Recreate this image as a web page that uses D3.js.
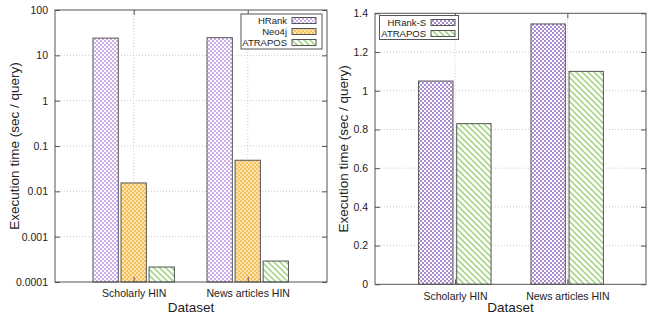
<!DOCTYPE html>
<html><head><meta charset="utf-8">
<script src="https://cdn.jsdelivr.net/npm/d3@7"></script>
<style>body{margin:0;background:#fff}svg{display:block}text{font-family:"Liberation Sans",Arial,sans-serif;fill:#222}</style>
</head><body><svg id="c" width="649" height="318"></svg>
<script>
const categories = ["Scholarly HIN", "News articles HIN"];
const leftSeries = ["HRank", "Neo4j", "ATRAPOS"];
const leftValues = [[24, 24.5], [0.0153, 0.0485], [0.000214, 0.00029]];
const leftTicks = [0.0001, 0.001, 0.01, 0.1, 1, 10, 100];
const leftTickLabels = ["0.0001", "0.001", "0.01", "0.1", "1", "10", "100"];
const rightSeries = ["HRank-S", "ATRAPOS"];
const rightValues = [[1.05, 1.345], [0.83, 1.10]];
const rightTicks = [0, 0.2, 0.4, 0.6, 0.8, 1, 1.2, 1.4];
const rightTickLabels = ["0", "0.2", "0.4", "0.6", "0.8", "1", "1.2", "1.4"];

const svg = d3.select("#c");
const defs = svg.append("defs");
function checker(id, bg, fg) {
  const p = defs.append("pattern").attr("id", id).attr("patternUnits", "userSpaceOnUse").attr("width", 4).attr("height", 4);
  p.append("rect").attr("width", 4).attr("height", 4).attr("fill", bg);
  p.append("rect").attr("width", 2).attr("height", 2).attr("fill", fg);
  p.append("rect").attr("x", 2).attr("y", 2).attr("width", 2).attr("height", 2).attr("fill", fg);
}
checker("pH", "#ffffff", "#cfacec");
checker("pHS", "#ffffff", "#a98bd2");
checker("pN", "#fde3ad", "#f6c15f");
{
  const p = defs.append("pattern").attr("id", "pA").attr("patternUnits", "userSpaceOnUse").attr("width", 6).attr("height", 6);
  p.append("rect").attr("width", 6).attr("height", 6).attr("fill", "#fff");
  p.append("path").attr("d", "M0,0L6,6M-3,3L3,9M3,-3L9,3").attr("stroke", "#a6d68a").attr("stroke-width", 1.6);
}
const fills = {"HRank": "url(#pH)", "HRank-S": "url(#pHS)", "Neo4j": "url(#pN)", "ATRAPOS": "url(#pA)"};

function chart(o) {
  const g = svg.append("g");
  const x = d3.scaleLinear().domain(o.xdom).range([o.x0, o.x1]);
  const y = o.y;
  g.selectAll(".gy").data(o.ticks.slice(1, -1)).enter().append("line")
    .attr("x1", o.x0).attr("x2", o.x1).attr("y1", d => y(d)).attr("y2", d => y(d))
    .attr("stroke", "#c8c8c8").attr("stroke-dasharray", "1,2");
  g.selectAll(".gx").data(categories).enter().append("line")
    .attr("x1", (d, i) => x(i)).attr("x2", (d, i) => x(i)).attr("y1", o.y0).attr("y2", o.y1)
    .attr("stroke", "#c8c8c8").attr("stroke-dasharray", "1,2");
  o.series.forEach((s, si) => {
    const off = o.offsets[si];
    g.selectAll(".b" + si).data(o.values[si]).enter().append("rect")
      .attr("x", (d, i) => x(i + off - o.bw / 2)).attr("width", x(o.bw) - x(0))
      .attr("y", d => y(d)).attr("height", d => o.y1 - y(d))
      .attr("fill", fills[s]).attr("stroke", "#555").attr("stroke-width", 1);
  });
  const ya = d3.axisLeft(y).tickValues(o.ticks).tickFormat((d, i) => o.tickLabels[i]).tickSize(-5).tickPadding(7);
  const yg = g.append("g").attr("transform", `translate(${o.x0},0)`).call(ya);
  const yr = g.append("g").attr("transform", `translate(${o.x1},0)`).call(d3.axisRight(y).tickValues(o.ticks).tickFormat("").tickSize(-5));
  const xa = d3.axisBottom(x).tickValues([0, 1]).tickFormat((d, i) => categories[i]).tickSize(-5).tickPadding(8);
  const xg = g.append("g").attr("transform", `translate(0,${o.y1})`).call(xa);
  const xt = g.append("g").attr("transform", `translate(0,${o.y0})`).call(d3.axisTop(x).tickValues([0, 1]).tickFormat("").tickSize(-5));
  [yg, yr, xg, xt].forEach(a => { a.select(".domain").remove(); a.selectAll("line").attr("stroke", "#555"); a.selectAll("text").style("font-size", "10.5px").attr("fill", "#222"); });
  g.append("rect").attr("x", o.x0).attr("y", o.y0).attr("width", o.x1 - o.x0).attr("height", o.y1 - o.y0)
    .attr("fill", "none").attr("stroke", "#555").attr("stroke-width", 1);
  g.append("text").attr("x", (o.x0 + o.x1) / 2).attr("y", 312).attr("text-anchor", "middle").style("font-size", "13.5px").text("Dataset");
  g.append("text").attr("transform", `translate(${o.ylabx},${(o.y0 + o.y1) / 2}) rotate(-90)`).attr("text-anchor", "middle").style("font-size", "13.5px").text("Execution time (sec / query)");
  const L = o.legend;
  g.append("rect").attr("x", L.x).attr("y", L.y).attr("width", L.w).attr("height", L.h).attr("fill", "#fff").attr("stroke", "#555");
  o.series.forEach((s, si) => {
    const yy = L.y + L.first + si * L.step;
    g.append("text").attr("x", L.tx).attr("y", yy + 3.5).attr("text-anchor", "end").style("font-size", "9.5px").text(s);
    g.append("rect").attr("x", L.tx + 5).attr("y", yy - 3).attr("width", 24).attr("height", 6).attr("fill", fills[s]).attr("stroke", "#555");
  });
}

chart({
  x0: 55, x1: 327, y0: 10, y1: 282, xdom: [-0.69, 1.695],
  y: d3.scaleLog().domain([0.0001, 100]).range([282, 10]),
  ticks: leftTicks, tickLabels: leftTickLabels,
  series: leftSeries, values: leftValues, offsets: [-0.246, 0, 0.246], bw: 0.222,
  ylabx: 19,
  legend: {x: 241, y: 14, w: 81, h: 35, tx: 287, first: 6.5, step: 11}
});
chart({
  x0: 375, x1: 646, y0: 13.3, y1: 284.3, xdom: [-0.712, 1.70],
  y: d3.scaleLinear().domain([0, 1.4]).range([284.3, 13.3]),
  ticks: rightTicks, tickLabels: rightTickLabels,
  series: rightSeries, values: rightValues, offsets: [-0.171, 0.168], bw: 0.306,
  ylabx: 348,
  legend: {x: 379.5, y: 15.5, w: 79, h: 24, tx: 426, first: 7, step: 11}
});
</script></body></html>
